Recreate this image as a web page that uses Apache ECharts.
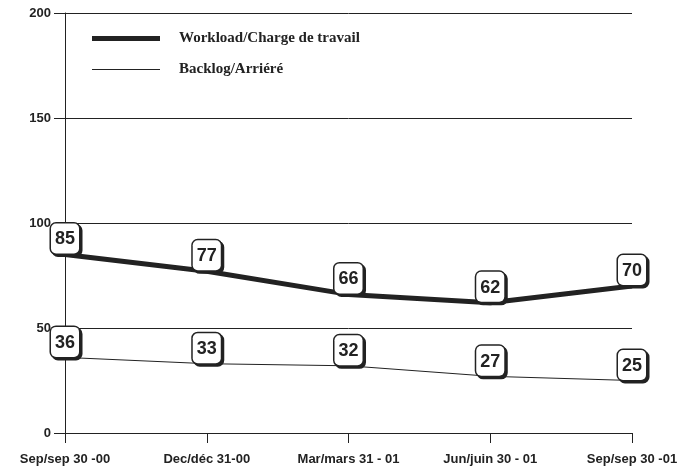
<!DOCTYPE html>
<html>
<head>
<meta charset="utf-8">
<script src="https://cdn.jsdelivr.net/npm/echarts@6/dist/echarts.min.js"></script>
<style>
  html, body { margin: 0; padding: 0; background: #fff; }
  #chart { width: 693px; height: 472px; }
</style>
</head>
<body>
<div id="chart"></div>
<script>
// categories and values
var categories = ["Sep/sep 30 -00", "Dec/déc 31-00", "Mar/mars 31 - 01", "Jun/juin 30 - 01", "Sep/sep 30 -01"];
var workload = [85, 77, 66, 62, 70];
var backlog = [36, 33, 32, 27, 25];
var seriesNames = ["Workload/Charge de travail", "Backlog/Arriéré"];

var ink = "#222";

// boxed value label
var boxLabel = {
  show: true,
  position: "top",
  distance: 0,
  color: ink,
  fontFamily: "Liberation Sans, Arial, sans-serif",
  fontWeight: "bold",
  fontSize: 18,
  backgroundColor: "#fff",
  borderColor: ink,
  borderWidth: 1.5,
  borderRadius: 5,
  padding: [7, 4, 5, 4],
  shadowColor: ink,
  shadowOffsetX: 2,
  shadowOffsetY: 2
};

var myChart = echarts.init(document.getElementById("chart"));
var option = {
  animation: false,
  backgroundColor: "#fff",
  grid: { left: 65, right: 61, top: 13, bottom: 39 },
  legend: {
    orient: "vertical",
    left: 87,
    top: 26,
    itemWidth: 68,
    itemHeight: 16,
    itemGap: 16,
    textStyle: {
      fontFamily: "Liberation Serif, Times New Roman, serif",
      fontWeight: "bold",
      fontSize: 15,
      color: ink,
      padding: [0, 0, 0, 14]
    },
    data: [
      { name: seriesNames[0], icon: "path://M0,0H68V5H0Z" },
      { name: seriesNames[1], icon: "path://M0,0H68V1H0Z" }
    ]
  },
  xAxis: {
    type: "category",
    boundaryGap: false,
    data: categories,
    axisLine: { lineStyle: { color: ink, width: 1 } },
    axisTick: { show: true, length: 10, alignWithLabel: true, lineStyle: { color: ink } },
    axisLabel: {
      margin: 20,
      color: ink,
      fontFamily: "Liberation Sans, Arial, sans-serif",
      fontWeight: "bold",
      fontSize: 13,
      interval: 0
    }
  },
  yAxis: {
    type: "value",
    min: 0,
    max: 200,
    interval: 50,
    axisLine: { show: true, lineStyle: { color: ink, width: 1 } },
    axisTick: { show: true, length: 11, lineStyle: { color: ink } },
    axisLabel: {
      margin: 14,
      color: ink,
      fontFamily: "Liberation Sans, Arial, sans-serif",
      fontWeight: "bold",
      fontSize: 13
    },
    splitLine: { show: true, lineStyle: { color: ink, width: 1 } }
  },
  series: [
    {
      name: seriesNames[0],
      type: "line",
      data: workload,
      symbol: "circle",
      symbolSize: 2,
      showSymbol: true,
      itemStyle: { color: ink },
      lineStyle: { color: ink, width: 5 },
      label: boxLabel,
      z: 3
    },
    {
      name: seriesNames[1],
      type: "line",
      data: backlog,
      symbol: "circle",
      symbolSize: 1,
      showSymbol: true,
      itemStyle: { color: ink },
      lineStyle: { color: ink, width: 1 },
      label: boxLabel,
      z: 3
    }
  ]
};
myChart.setOption(option);
</script>
</body>
</html>
